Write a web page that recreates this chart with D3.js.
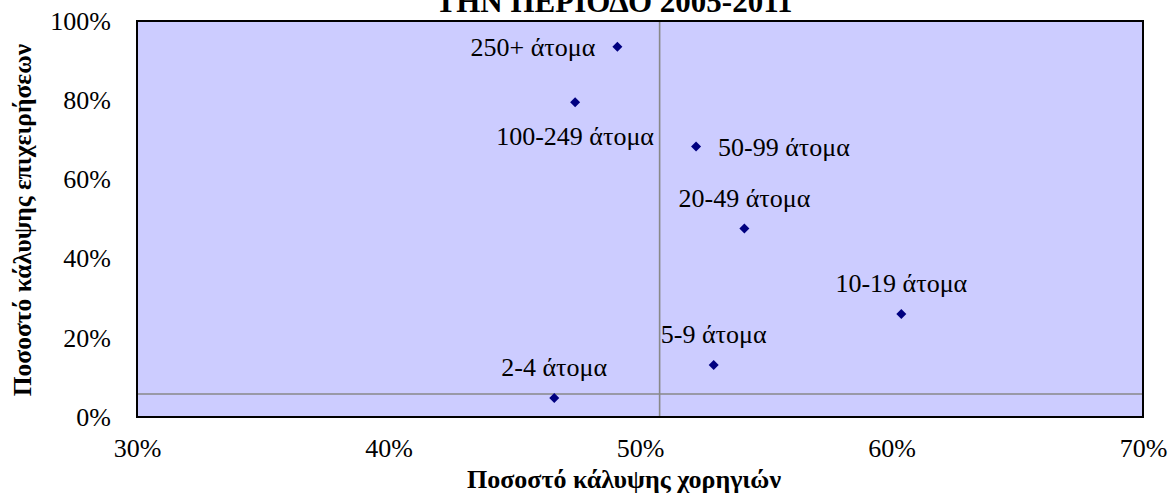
<!DOCTYPE html>
<html>
<head>
<meta charset="utf-8">
<script src="https://cdn.jsdelivr.net/npm/d3@7"></script>
<style>
  html, body { margin: 0; padding: 0; background: #fff; }
  svg { display: block; }
  text { font-family: "Liberation Serif", "Times New Roman", Times, serif; }
</style>
</head>
<body>
<svg id="chart" width="1168" height="497"></svg>
<script>
// ---- Data ----
const categories = ["2-4 άτομα", "5-9 άτομα", "10-19 άτομα", "20-49 άτομα", "50-99 άτομα", "100-249 άτομα", "250+ άτομα"];
const grantCoverage = [0.4659, 0.5293, 0.6039, 0.5415, 0.5223, 0.4742, 0.4910];   // x: Ποσοστό κάλυψης χορηγιών
const firmCoverage  = [0.048, 0.131, 0.260, 0.476, 0.683, 0.795, 0.935];          // y: Ποσοστό κάλυψης επιχειρήσεων
const labelPlacement = ["above", "above", "above", "above", "right", "below", "left"];
const xTicks = [0.3, 0.4, 0.5, 0.6, 0.7];
const yTicks = [0, 0.2, 0.4, 0.6, 0.8, 1.0];
const refX = [0.5078];   // vertical reference line
const refY = [0.058];    // horizontal reference line
const titleText = "ΤΗΝ ΠΕΡΙΟΔΟ 2005-2011";
const xTitle = "Ποσοστό κάλυψης χορηγιών";
const yTitle = "Ποσοστό κάλυψης επιχειρήσεων";

// ---- Layout ----
const FONT = "Liberation Serif, Times New Roman, Times, serif";
const svg = d3.select("#chart");
const plot = { left: 137, right: 1143, top: 21, bottom: 417 };

const x = d3.scaleLinear().domain([0.3, 0.7]).range([plot.left, plot.right]);
const y = d3.scaleLinear().domain([0, 1]).range([plot.bottom, plot.top]);
const pct = d3.format(".0%");

// Title (its top is clipped by the canvas edge, as in the reference)
svg.append("text")
  .attr("x", 614).attr("y", 12)
  .attr("text-anchor", "middle")
  .attr("font-family", FONT)
  .attr("font-weight", "bold")
  .attr("font-size", 31)
  .text(titleText);

// Plot background
svg.append("rect")
  .attr("x", plot.left).attr("y", plot.top)
  .attr("width", plot.right - plot.left).attr("height", plot.bottom - plot.top)
  .attr("fill", "#CCCCFF");

// Reference lines
svg.selectAll(".refx").data(refX).enter().append("line")
  .attr("x1", d => x(d)).attr("x2", d => x(d))
  .attr("y1", plot.top).attr("y2", plot.bottom)
  .attr("stroke", "#888888").attr("stroke-width", 1.6);
svg.selectAll(".refy").data(refY).enter().append("line")
  .attr("x1", plot.left).attr("x2", plot.right)
  .attr("y1", d => y(d)).attr("y2", d => y(d))
  .attr("stroke", "#888888").attr("stroke-width", 1.6);

// Border
svg.append("rect")
  .attr("x", plot.left).attr("y", plot.top)
  .attr("width", plot.right - plot.left).attr("height", plot.bottom - plot.top)
  .attr("fill", "none").attr("stroke", "#000").attr("stroke-width", 2);

// Axes
const xAxis = d3.axisBottom(x).tickValues(xTicks).tickFormat(pct).tickSize(0).tickPadding(22);
const gx = svg.append("g").attr("transform", `translate(0,${plot.bottom})`).call(xAxis);
gx.attr("font-family", FONT).attr("font-size", 26);
gx.select(".domain").remove();
gx.selectAll("text").attr("font-family", FONT).attr("font-size", 26).attr("fill", "#000");

const yAxis = d3.axisLeft(y).tickValues(yTicks).tickFormat(pct).tickSize(0).tickPadding(26);
const gy = svg.append("g").attr("transform", `translate(${plot.left},0)`).call(yAxis);
gy.attr("font-family", FONT).attr("font-size", 26);
gy.select(".domain").remove();
gy.selectAll("text").attr("font-family", FONT).attr("font-size", 26).attr("fill", "#000");

// Axis titles
svg.append("text")
  .attr("x", 624).attr("y", 488)
  .attr("text-anchor", "middle").attr("font-family", FONT)
  .attr("font-weight", "bold").attr("font-size", 26)
  .text(xTitle);
svg.append("text")
  .attr("transform", `translate(31,${(plot.top + plot.bottom) / 2 + 1}) rotate(-90)`)
  .attr("text-anchor", "middle").attr("font-family", FONT)
  .attr("font-weight", "bold").attr("font-size", 25.5)
  .text(yTitle);

// Points (navy diamonds)
const pts = categories.map((c, i) => ({ c, x: grantCoverage[i], y: firmCoverage[i], pos: labelPlacement[i] }));
svg.selectAll(".pt").data(pts).enter().append("path")
  .attr("d", d3.symbol().type(d3.symbolSquare).size(50))
  .attr("transform", d => `translate(${x(d.x)},${y(d.y)}) rotate(45)`)
  .attr("fill", "#000080");

// Labels
svg.selectAll(".lbl").data(pts).enter().append("text")
  .attr("font-family", FONT)
  .attr("font-size", 26)
  .attr("fill", "#000")
  .attr("text-anchor", d => d.pos === "left" ? "end" : d.pos === "right" ? "start" : "middle")
  .attr("x", d => d.pos === "left" ? x(d.x) - 22 : d.pos === "right" ? x(d.x) + 22 : x(d.x))
  .attr("y", d => d.pos === "above" ? y(d.y) - 22 : d.pos === "below" ? y(d.y) + 43 : y(d.y) + 9)
  .text(d => d.c);
</script>
</body>
</html>
